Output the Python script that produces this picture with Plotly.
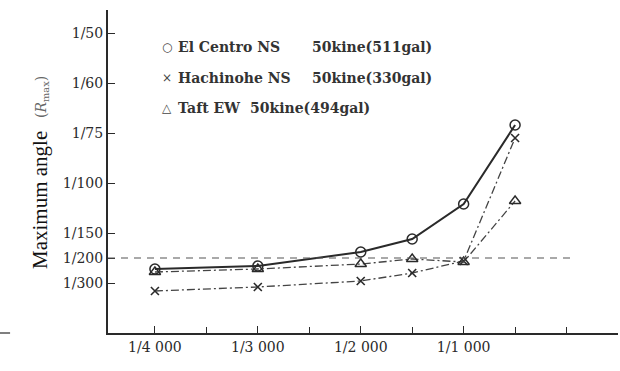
import plotly.graph_objects as go

# x positions (index on the excitation scale) and tick labels
x_tick_pos = [0, 1, 2, 3]
x_tick_text = ["1/4 000", "1/3 000", "1/2 000", "1/1 000"]
x_minor = [0.5, 1.5, 2.5, 3.5, 4.0]

# y tick positions (chart scale units) and labels
y_tick_pos = [1, 1.5, 2, 3, 4, 5, 6]
y_tick_text = ["1/300", "1/200", "1/150", "1/100", "1/75", "1/60", "1/50"]

x_pts = [0, 1, 2, 2.5, 3, 3.5]
el_centro = [1.28, 1.34, 1.62, 1.88, 2.58, 4.16]
hachinohe = [0.84, 0.92, 1.04, 1.20, 1.44, 3.90]
taft = [1.22, 1.28, 1.38, 1.48, 1.42, 2.64]
limit_level = 1.5  # 1/200

legend_symbols = ["○", "×", "△"]
legend_names = ["El Centro NS", "Hachinohe NS", "Taft EW"]
legend_levels = ["50kine(511gal)", "50kine(330gal)", "50kine(494gal)"]
legend_level_x = [310, 310, 248]

ink = "#2a2a2a"
serif = "DejaVu Serif"

fig = go.Figure()
fig.add_trace(go.Scatter(
    x=x_pts, y=el_centro, mode="lines+markers",
    line=dict(color=ink, width=2),
    marker=dict(symbol="circle-open", size=10, color=ink, line=dict(width=1.5)),
))
fig.add_trace(go.Scatter(
    x=x_pts, y=hachinohe, mode="lines+markers",
    line=dict(color="#444", width=1.3, dash="8px,3px,2px,3px"),
    marker=dict(symbol="x-thin-open", size=8, color=ink, line=dict(width=1.6)),
))
fig.add_trace(go.Scatter(
    x=x_pts, y=taft, mode="lines+markers",
    line=dict(color="#444", width=1.3, dash="8px,3px,2px,3px"),
    marker=dict(symbol="triangle-up-open", size=10, color=ink, line=dict(width=1.4)),
))

fig.add_shape(type="line", xref="x", yref="y", x0=-0.456, x1=4.06,
              y0=limit_level, y1=limit_level,
              line=dict(color="#555", width=1.2, dash="7px,6px"))
fig.add_shape(type="line", xref="paper", yref="paper", x0=-0.212, x1=-0.192,
              y0=0, y1=0, line=dict(color="#555", width=1.5))

ann = []
rows_y = [0.885, 0.789, 0.697]
for s, n, lv, lx, yy in zip(legend_symbols, legend_names, legend_levels,
                            legend_level_x, rows_y):
    ann.append(dict(text=s, x=(167 - 108) / 510, y=yy, xref="paper", yref="paper",
                    xanchor="center", yanchor="middle", showarrow=False,
                    font=dict(family=serif, size=12, color="#444")))
    ann.append(dict(text=n, x=(176 - 108) / 510, y=yy, xref="paper", yref="paper",
                    xanchor="left", yanchor="middle", showarrow=False,
                    font=dict(family=serif, size=14, color="#333", weight="bold")))
    ann.append(dict(text=lv, x=(lx - 108) / 510, y=yy, xref="paper", yref="paper",
                    xanchor="left", yanchor="middle", showarrow=False,
                    font=dict(family=serif, size=14, color="#333", weight="bold")))
ann.append(dict(text="Maximum angle", x=(26 - 108) / 510, y=1 - (200 - 10) / 323,
                xref="paper", yref="paper", showarrow=False, textangle=-90,
                font=dict(family="Liberation Serif", size=21, color="#111")))
ann.append(dict(text="(<i>R</i><sub>max</sub>)", x=(31 - 108) / 510,
                y=1 - (74 - 10) / 323, xref="paper", yref="paper",
                showarrow=False, textangle=-90,
                font=dict(family=serif, size=14, color="#666")))

fig.update_layout(
    width=620, height=371,
    margin=dict(l=108, r=2, t=10, b=38),
    paper_bgcolor="white", plot_bgcolor="white",
    showlegend=False,
    annotations=ann,
    xaxis=dict(range=[-0.456, 4.5], tickmode="array", tickvals=x_tick_pos,
               ticktext=x_tick_text, ticks="inside", ticklen=7, tickwidth=1.3,
               tickcolor=ink, showline=True, linecolor=ink, linewidth=2,
               showgrid=False, zeroline=False,
               tickfont=dict(family=serif, size=14, color=ink),
               minor=dict(tickvals=x_minor, ticks="inside", ticklen=6,
                          tickcolor=ink, tickwidth=1.2)),
    yaxis=dict(range=[0, 6.46], tickmode="array", tickvals=y_tick_pos,
               ticktext=y_tick_text, ticks="inside", ticklen=7, tickwidth=1.3,
               tickcolor=ink, showline=True, linecolor=ink, linewidth=2,
               showgrid=False, zeroline=False,
               tickfont=dict(family=serif, size=14, color=ink)),
)

fig.write_html("out.html")
